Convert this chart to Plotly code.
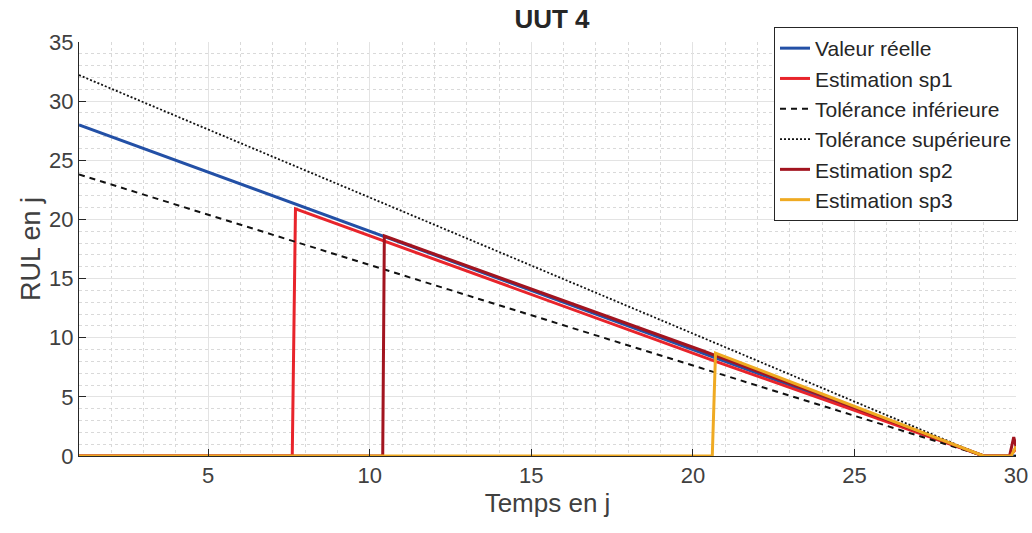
import plotly.graph_objects as go

# --- data ---
t_reel = [1, 29, 30]
y_reel = [28, 0, 0]

t_tol = [1, 29, 30]
y_tol_inf = [23.8, 0, 0]
y_tol_sup = [32.2, 0, 0]

t_sp1 = [1, 7.6, 7.7, 20.7, 29.0, 29.8, 30]
y_sp1 = [0, 0, 20.9, 8.0, 0, 0, 0.6]

t_sp2 = [1, 10.4, 10.45, 20.3, 29.0, 29.8, 29.93, 30]
y_sp2 = [0, 0, 18.6, 8.9, 0, 0, 1.6, 0.8]

t_sp3 = [1, 20.6, 20.7, 29.0, 29.85, 30]
y_sp3 = [0, 0, 8.7, 0, 0, 0.8]

x_ticks = [5, 10, 15, 20, 25, 30]
y_ticks = [0, 5, 10, 15, 20, 25, 30, 35]

FONT = "Liberation Sans, Arial, Helvetica"
W, H = 1032, 533

fig = go.Figure()
fig.add_trace(go.Scatter(x=t_reel, y=y_reel, mode="lines", name="Valeur réelle",
                         line=dict(color="#2350a6", width=3)))
fig.add_trace(go.Scatter(x=t_sp1, y=y_sp1, mode="lines", name="Estimation sp1",
                         line=dict(color="#e8242b", width=3)))
fig.add_trace(go.Scatter(x=t_tol, y=y_tol_inf, mode="lines", name="Tolérance inférieure",
                         line=dict(color="#111111", width=2, dash="6px,5px")))
fig.add_trace(go.Scatter(x=t_tol, y=y_tol_sup, mode="lines", name="Tolérance supérieure",
                         line=dict(color="#111111", width=1.8, dash="2px,2px")))
fig.add_trace(go.Scatter(x=t_sp2, y=y_sp2, mode="lines", name="Estimation sp2",
                         line=dict(color="#a2141f", width=3)))
fig.add_trace(go.Scatter(x=t_sp3, y=y_sp3, mode="lines", name="Estimation sp3",
                         line=dict(color="#efaa22", width=3)))

axis_common = dict(
    showline=True, linecolor="#262626", linewidth=1,
    ticks="inside", ticklen=7, tickcolor="#262626",
    showgrid=True, gridcolor="#e3e3e3", gridwidth=1,
    tickfont=dict(family=FONT, size=22, color="#404040"),
    zeroline=False, mirror=False, automargin=False,
)

fig.update_layout(
    width=W, height=H,
    margin=dict(l=79, r=16, t=42, b=77, autoexpand=False),
    paper_bgcolor="white", plot_bgcolor="white",
    title=dict(text="<b>UUT 4</b>", x=552 / W, xanchor="center",
               xref="container", yref="container", y=1 - 19 / H, yanchor="middle",
               font=dict(family=FONT, size=26, color="#262626")),
    xaxis=dict(range=[1, 30], tickvals=x_ticks,
               title=dict(text="Temps en j", font=dict(family=FONT, size=26, color="#404040"), standoff=0),
               minor=dict(dtick=1, tick0=0, showgrid=True, gridcolor="#d9d9d9", griddash="dot", ticks=""),
               **axis_common),
    yaxis=dict(range=[0, 35], tickvals=y_ticks,
               title=dict(text="RUL en j", font=dict(family=FONT, size=27, color="#404040"), standoff=0),
               minor=dict(dtick=1, tick0=0, showgrid=True, gridcolor="#d9d9d9", griddash="dot", ticks=""),
               **axis_common),
    legend=dict(xref="container", yref="container",
                x=1018 / W, xanchor="right", y=1 - 27 / H, yanchor="top",
                bgcolor="white", bordercolor="#262626", borderwidth=1,
                font=dict(family=FONT, size=21, color="#262626"),
                tracegroupgap=0, itemwidth=30),
    showlegend=True,
)

fig.write_html("out.html",
               config={"displayModeBar": False},
               post_script="document.body.style.margin='0';document.body.style.overflow='hidden';")
